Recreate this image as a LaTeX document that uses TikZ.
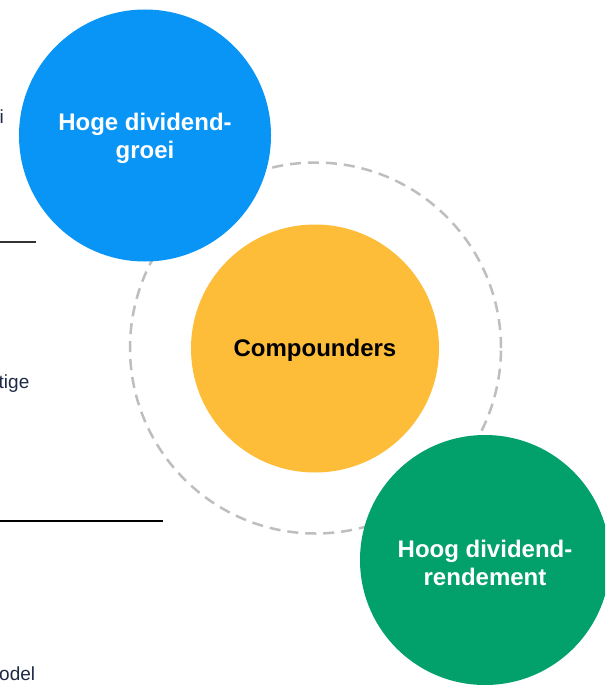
\documentclass[tikz,border=0pt]{standalone}
\usepackage{fontspec}
\setmainfont{Liberation Sans}
\definecolor{cblue}{HTML}{0895F6}
\definecolor{cyellow}{HTML}{FDBD39}
\definecolor{cgreen}{HTML}{02A16C}
\definecolor{cdash}{HTML}{BEBEBE}
\definecolor{cnavy}{HTML}{1E2A44}
\begin{document}
\begin{tikzpicture}[x=1pt,y=-1pt,
  bubble/.style={circle,inner sep=0pt},
  btext/.style={inner sep=0pt,align=center,font=\bfseries\fontsize{24}{28.5}\selectfont},
  frag/.style={inner sep=0pt,anchor=base west,text=cnavy,font=\fontsize{19}{22}\selectfont},
  rule/.style={line width=1.5pt}]
\clip (0,0) rectangle (605,685);
\useasboundingbox (0,0) rectangle (605,685);
\fill[white] (0,0) rectangle (605,685);
% left fragments
\node[frag] (fi) at (-0.5,123) {i};
\node[frag] (ftige) at (-1.5,388) {tige};
\node[frag] (fodel) at (-1,680) {odel};
\coordinate (l1a) at (0,242); \coordinate (l1b) at (36,242);
\coordinate (l2a) at (0,521); \coordinate (l2b) at (163,521);
\draw[rule,color=black!80] (l1a) -- (l1b);
\draw[rule,color=black] (l2a) -- (l2b);
% dashed ring
\node[circle,draw=cdash,line width=2.5pt,dash pattern=on 11pt off 7pt,minimum size=371pt,inner sep=0pt] (ring) at (315.5,348) {};
% bubbles
\node[bubble,fill=cblue,minimum size=252pt] (grow) at (145,135.5) {};
\node[btext,text=white] (growt) at ([yshift=-3pt]grow.center) {Hoge dividend-\\groei};
\node[bubble,fill=cyellow,minimum size=248pt] (comp) at (315,348.5) {};
\node[btext,text=black] (compt) at ([yshift=-2pt]comp.center) {Compounders};
\node[bubble,fill=cgreen,minimum size=250pt] (yield) at (485,560) {};
\node[btext,text=white] (yieldt) at ([yshift=-3pt]yield.center) {Hoog dividend-\\rendement};
\end{tikzpicture}
\end{document}
